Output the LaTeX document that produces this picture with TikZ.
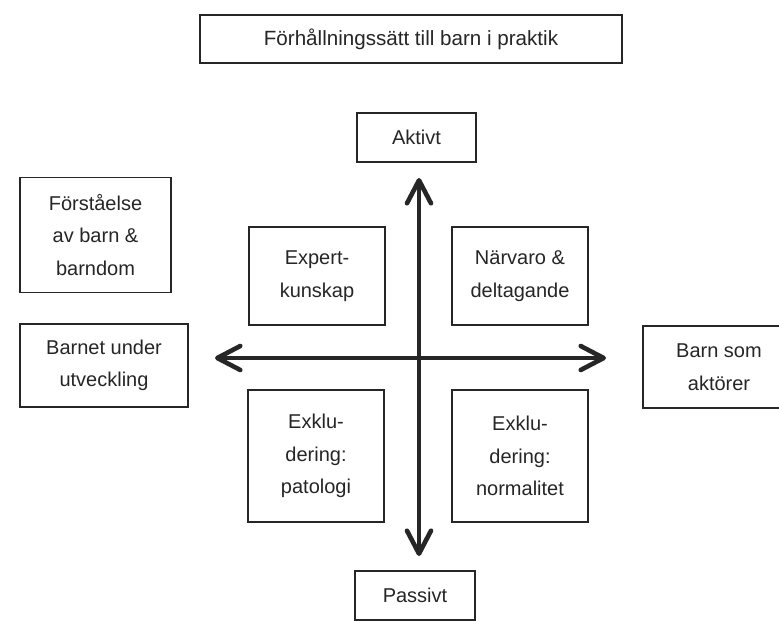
\documentclass[tikz,border=0pt]{standalone}
\usepackage{fontspec}
\setmainfont{Liberation Sans}
\usetikzlibrary{arrows.meta}
\begin{document}
\begin{tikzpicture}[x=1pt,y=-1pt,
  box/.style={draw=black!85, line width=1.3pt, align=center, inner sep=0pt,
    font=\fontsize{20}{32.5}\selectfont, text=black!85},
  axis/.style={line width=4.6pt, draw=black!85,
    {Straight Barb[length=23pt,width=24pt,line cap=round,line join=round]}-{Straight Barb[length=23pt,width=24pt,line cap=round,line join=round]}}
]
\useasboundingbox (0,0) rectangle (779,621);
\clip (0,0) rectangle (779,621);
\fill[white] (0,0) rectangle (779,621);
\node[box, minimum width=422pt, minimum height=48pt, font=\fontsize{20.6}{24}\selectfont] (title) at (411,39) {Förhållningssätt till barn i praktik};
\node[box, minimum width=119pt, minimum height=49pt] (akt) at (416.5,137.5) {Aktivt};
\node[box, minimum width=151pt, minimum height=115pt] (forst) at (95.5,235) {Förståelse\\av barn \&\\barndom};
\node[box, minimum width=136pt, minimum height=98pt] (exp) at (317,276) {Expert-\\kunskap};
\node[box, minimum width=136pt, minimum height=98pt] (narv) at (520,276) {Närvaro \&\\deltagande};
\node[box, minimum width=168pt, minimum height=83pt] (barnet) at (104,365.5) {Barnet under\\utveckling};
\node[box, minimum width=152pt, minimum height=82pt] (barnsom) at (719,367) {Barn som\\aktörer};
\node[box, minimum width=136pt, minimum height=132pt] (exkl) at (316,456) {Exklu-\\dering:\\patologi};
\node[box, minimum width=136pt, minimum height=132pt] (exkr) at (520,456) {Exklu-\\dering:\\normalitet};
\node[box, minimum width=120pt, minimum height=49pt] (pass) at (415,595.5) {Passivt};
\coordinate (vtop) at (419,178);
\coordinate (vbot) at (419,556);
\coordinate (hl) at (215,358);
\coordinate (hr) at (606,358);
\draw[axis] (vbot) -- (vtop);
\draw[axis] (hl) -- (hr);
\end{tikzpicture}
\end{document}
